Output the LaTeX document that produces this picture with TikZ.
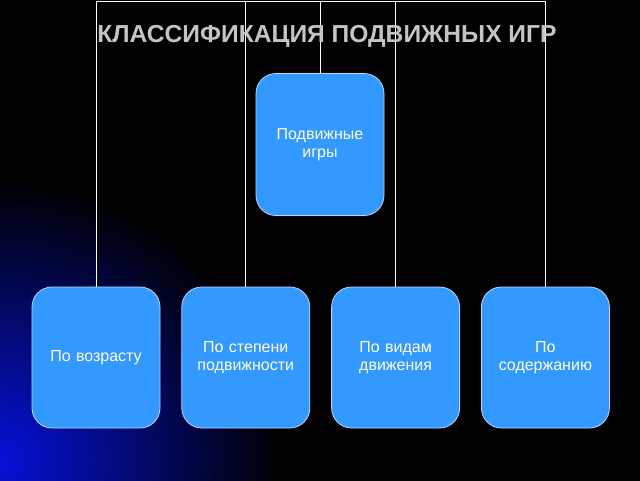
\documentclass[tikz,border=0pt]{standalone}
\usepackage{fontspec}
\setmainfont{Liberation Sans}
\usetikzlibrary{positioning}

\definecolor{boxblue}{HTML}{3399FF}
\definecolor{boxline}{HTML}{B8D8FF}
\definecolor{titlegray}{HTML}{C4C4C4}
\definecolor{glowblue}{HTML}{0612D8}

\tikzset{
  basic/.style  = {draw=boxline, line width=0.8pt, rectangle, rounded corners=20pt,
                   fill=boxblue, text=white, align=center, text width=116pt,
                   font=\fontsize{16}{18.5}\selectfont},
  root/.style   = {basic, minimum width=128pt, minimum height=142pt},
  level 2/.style = {basic, minimum width=128pt, minimum height=141pt},
  link/.style   = {draw=white, line width=1pt},
  title/.style  = {text=titlegray, font=\fontsize{24.6}{30}\selectfont\bfseries}
}

\begin{document}
\begin{tikzpicture}[x=1pt, y=-1pt]

% background with the blue glow in the lower left corner
\useasboundingbox (0,0) rectangle (640,480);
\fill[black] (-10,-10) rectangle (650,490);
\begin{scope}
  \clip (-10,-10) rectangle (650,490);
  \shade[inner color=glowblue, outer color=black] (-280,180) rectangle (280,740);
\end{scope}

% root of the tree
\node[root] (root) at (320,144.5) {Подвижные\\игры};

% the second level, relatively positioned nodes
\begin{scope}[every node/.style={level 2}]
\node at (96,357.5) (c1) {По возрасту};
\node [right=21pt of c1] (c2) {По степени\\подвижности};
\node [right=21pt of c2] (c3) {По видам\\движения};
\node [right=21pt of c3] (c4) {По\\содержанию};
\end{scope}

% connectors run over the top of the picture
\coordinate (top) at (320,1.5);
\foreach \value in {1,...,4}
  \draw[link] (root.north) -- (root.north |- top) -| (c\value.north);

\node[title] (title) at (327,36) {КЛАССИФИКАЦИЯ ПОДВИЖНЫХ ИГР};
\end{tikzpicture}
\end{document}
